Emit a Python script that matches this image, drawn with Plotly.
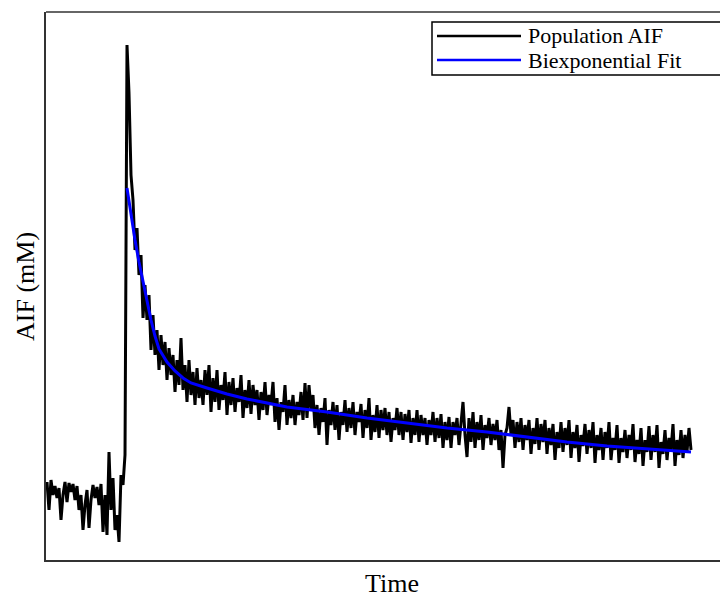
import plotly.graph_objects as go

# population AIF (mM)
aif_mM = [
    0.08, -0.20, 0.10, -0.05, 0.04, -0.08, 0.02, -0.30, -0.05, 0.08,
    -0.12, 0.07, -0.02, 0.06, -0.10, 0.04, -0.20, -0.05, -0.40, -0.15,
    0.00, -0.38, -0.10, 0.05, -0.08, 0.03, -0.15, 0.06, -0.42, -0.05,
    -0.45, 0.38, -0.20, 0.12, -0.40, -0.25, -0.52, 0.15, 0.05, 0.35,
    4.45, 3.97, 3.15, 2.90, 2.40, 2.62, 2.15, 2.35, 1.72, 2.05,
    1.70, 1.95, 1.40, 1.75, 1.35, 1.60, 1.20, 1.55, 1.25, 1.48,
    1.10, 1.42, 1.15, 1.35, 0.98, 1.30, 1.05, 1.52, 1.00, 1.25,
    0.88, 1.30, 0.95, 1.18, 0.85, 1.22, 0.92, 1.10, 0.85, 1.20,
    0.95, 1.25, 0.78, 1.12, 0.88, 1.20, 0.80, 1.05, 0.90, 1.18,
    0.75, 1.08, 0.85, 1.12, 0.78, 1.02, 0.88, 1.15, 0.72, 1.00,
    0.82, 1.10, 0.76, 1.05, 0.85, 1.00, 0.70, 0.98, 0.80, 1.08,
    0.75, 0.95, 0.85, 1.08, 0.68, 0.92, 0.60, 0.88, 0.78, 1.05,
    0.65, 0.90, 0.72, 0.95, 0.65, 0.88, 0.75, 0.98, 0.70, 1.07,
    0.72, 1.05, 0.80, 0.95, 0.62, 0.85, 0.55, 0.82, 0.68, 0.92,
    0.45, 0.80, 0.65, 0.88, 0.60, 0.85, 0.50, 0.78, 0.65, 0.90,
    0.58, 0.82, 0.62, 0.88, 0.55, 0.78, 0.68, 0.86, 0.52, 0.80,
    0.62, 0.92, 0.50, 0.75, 0.58, 0.85, 0.52, 0.80, 0.60, 0.82,
    0.55, 0.78, 0.48, 0.72, 0.60, 0.82, 0.55, 0.78, 0.50, 0.76,
    0.58, 0.80, 0.47, 0.72, 0.55, 0.80, 0.48, 0.75, 0.55, 0.72,
    0.45, 0.70, 0.55, 0.78, 0.48, 0.72, 0.52, 0.76, 0.42, 0.68,
    0.50, 0.73, 0.42, 0.68, 0.55, 0.72, 0.45, 0.70, 0.88, 0.55,
    0.33, 0.72, 0.48, 0.78, 0.42, 0.68, 0.50, 0.75, 0.40, 0.65,
    0.52, 0.72, 0.45, 0.66, 0.50, 0.70, 0.40, 0.60, 0.22, 0.55,
    0.62, 0.83, 0.55, 0.70, 0.42, 0.68, 0.48, 0.72, 0.40, 0.65,
    0.50, 0.70, 0.36, 0.62, 0.46, 0.72, 0.40, 0.66, 0.48, 0.70,
    0.36, 0.62, 0.45, 0.66, 0.30, 0.58, 0.42, 0.68, 0.38, 0.62,
    0.45, 0.70, 0.32, 0.58, 0.42, 0.65, 0.28, 0.55, 0.44, 0.66,
    0.36, 0.60, 0.42, 0.68, 0.27, 0.55, 0.40, 0.62, 0.30, 0.58,
    0.42, 0.68, 0.30, 0.52, 0.40, 0.65, 0.27, 0.52, 0.38, 0.60,
    0.32, 0.55, 0.40, 0.66, 0.28, 0.50, 0.36, 0.62, 0.24, 0.50,
    0.38, 0.64, 0.30, 0.55, 0.38, 0.65, 0.22, 0.48, 0.36, 0.60,
    0.30, 0.52, 0.40, 0.66, 0.24, 0.50, 0.35, 0.60, 0.32, 0.55,
    0.38, 0.62, 0.40,
]
# frame index of the acquisition, one value per frame
time_aif = list(range(len(aif_mM)))

# biexponential fit, starting at the peak frame
fit_time = [40, 42, 44, 46, 48, 50, 52, 54, 56, 60, 64, 68, 72, 80, 90,
            100, 110, 120, 140, 160, 180, 200, 220, 240, 260, 280, 300, 322]
fit_mM = [3.02, 2.75, 2.50, 2.28, 2.08, 1.88, 1.70, 1.54, 1.41, 1.28,
          1.19, 1.12, 1.07, 1.02, 0.96, 0.91, 0.87, 0.83, 0.78, 0.72,
          0.67, 0.62, 0.58, 0.53, 0.48, 0.44, 0.41, 0.38]

legend_names = ['Population AIF', 'Biexponential Fit']
line_colors = ['black', '#0000ff']

FONT = 'Liberation Serif'
OFF = 8  # page body margin around the figure
W, H = 728 - OFF, 597 - OFF
ML, MT, MB = 46 - OFF, 12 - OFF, 37
PW, PH = W - ML, H - MT - MB


def px(x):
    # page pixel -> paper coordinate
    return (x - OFF - ML) / PW


def py(y):
    return (H - MB - (y - OFF)) / PH


fig = go.Figure()
fig.add_trace(go.Scatter(x=time_aif, y=aif_mM, mode='lines', name=legend_names[0],
                         line=dict(color=line_colors[0], width=3)))
fig.add_trace(go.Scatter(x=fit_time, y=fit_mM, mode='lines', name=legend_names[1],
                         line=dict(color=line_colors[1], width=3)))

fig.update_layout(
    width=W, height=H,
    margin=dict(l=ML, r=0, t=MT, b=MB),
    plot_bgcolor='white', paper_bgcolor='white',
    showlegend=False,
    font=dict(family=FONT, size=26, color='black'),
)
axis_style = dict(showgrid=False, zeroline=False, showticklabels=False, ticks='',
                  showline=True, linecolor='#333', linewidth=1.5)
fig.update_xaxes(range=[-0.5, 340.5], **axis_style)
fig.update_yaxes(range=[-0.70, 4.78], **axis_style)

# top edge of the frame (the right edge falls outside the picture)
fig.add_shape(type='line', xref='paper', yref='paper', x0=0, x1=1, y0=1, y1=1,
              line=dict(color='#333', width=1.5))

# axis titles
fig.add_annotation(text='Time', xref='paper', yref='paper', x=px(392), y=py(583),
                   showarrow=False, xanchor='center', yanchor='middle')
fig.add_annotation(text='AIF (mM)', xref='paper', yref='paper', x=px(25), y=py(287),
                   showarrow=False, textangle=-90, xanchor='center', yanchor='middle')

# legend box drawn by hand so the rows sit as tight as in the original
fig.add_shape(type='rect', xref='paper', yref='paper', x0=px(432), x1=px(760),
              y0=py(75), y1=py(22), line=dict(color='black', width=1.5), fillcolor='white')
for i, (name, col) in enumerate(zip(legend_names, line_colors)):
    yy = py(36 + 24 * i)
    fig.add_shape(type='line', xref='paper', yref='paper', x0=px(437), x1=px(521),
                  y0=yy, y1=yy, line=dict(color=col, width=2.5))
    fig.add_annotation(text=name, xref='paper', yref='paper', x=px(526), y=yy,
                       showarrow=False, xanchor='left', yanchor='middle',
                       font=dict(size=22))

fig.write_html('out.html')
